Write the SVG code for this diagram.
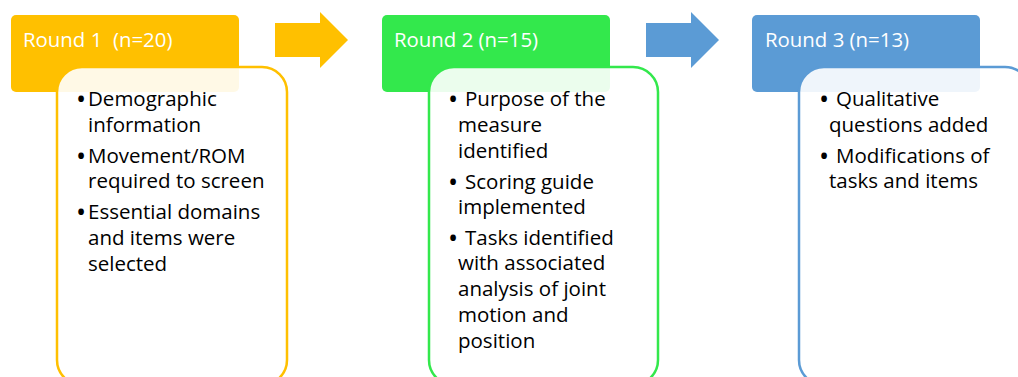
<svg xmlns="http://www.w3.org/2000/svg" width="1018" height="377" viewBox="0 0 1018 377">
  <style>
    .hdr-text { font-family: "Open Sans", "Liberation Sans", sans-serif; font-size: 20.4px; fill: #ffffff; }
    .body-text { font-family: "Open Sans", "Liberation Sans", sans-serif; font-size: 20.5px; fill: #000000; }
    .bullet { font-family: "Open Sans", "Liberation Sans", sans-serif; font-size: 27px; fill: #000000; }
    .card { fill: #ffffff; fill-opacity: 0.9; stroke-width: 2.5; }
  </style>
  <rect width="1018" height="377" fill="#ffffff"/>

  <!-- Round 1 -->
  <g id="round1">
    <rect x="11" y="15" width="228" height="77" rx="5" fill="#FFC000"/>
    <text class="hdr-text" x="23" y="47" xml:space="preserve">Round 1  (n=20)</text>
    <rect class="card" x="57" y="67" width="230" height="318" rx="25" stroke="#FFC000"/>
    <text class="bullet">
      <tspan x="76" y="109">•</tspan>
      <tspan x="76" y="166">•</tspan>
      <tspan x="76" y="222">•</tspan>
    </text>
    <text class="body-text">
      <tspan x="88" y="106">Demographic</tspan>
      <tspan x="88" y="132">information</tspan>
      <tspan x="88" y="163">Movement/ROM</tspan>
      <tspan x="88" y="188">required to screen</tspan>
      <tspan x="88" y="219">Essential domains</tspan>
      <tspan x="88" y="245">and items were</tspan>
      <tspan x="88" y="271">selected</tspan>
    </text>
  </g>

  <!-- Round 2 -->
  <g id="round2">
    <rect x="382" y="15" width="228" height="77" rx="5" fill="#33E84C"/>
    <text class="hdr-text" x="394" y="47">Round 2 (n=15)</text>
    <rect class="card" x="429" y="67" width="229" height="318" rx="25" stroke="#33E84C"/>
    <text class="bullet">
      <tspan x="448" y="109">•</tspan>
      <tspan x="448" y="192">•</tspan>
      <tspan x="448" y="248">•</tspan>
    </text>
    <text class="body-text">
      <tspan x="465" y="106">Purpose of the</tspan>
      <tspan x="458" y="132">measure</tspan>
      <tspan x="458" y="158">identified</tspan>
      <tspan x="465" y="189">Scoring guide</tspan>
      <tspan x="458" y="214">implemented</tspan>
      <tspan x="465" y="245">Tasks identified</tspan>
      <tspan x="458" y="270">with associated</tspan>
      <tspan x="458" y="296">analysis of joint</tspan>
      <tspan x="458" y="322">motion and</tspan>
      <tspan x="458" y="348">position</tspan>
    </text>
  </g>

  <!-- Round 3 -->
  <g id="round3">
    <rect x="752" y="15" width="228" height="77" rx="5" fill="#5B9BD5"/>
    <text class="hdr-text" x="765" y="47">Round 3 (n=13)</text>
    <rect class="card" x="799" y="67" width="231" height="318" rx="25" stroke="#5B9BD5"/>
    <text class="bullet">
      <tspan x="819" y="109">•</tspan>
      <tspan x="819" y="166">•</tspan>
    </text>
    <text class="body-text">
      <tspan x="836" y="106">Qualitative</tspan>
      <tspan x="829" y="132">questions added</tspan>
      <tspan x="836" y="163">Modifications of</tspan>
      <tspan x="829" y="188">tasks and items</tspan>
    </text>
  </g>

  <!-- Block arrows between rounds -->
  <g id="connectors">
    <polygon points="275,23 320,23 320,12 348,40 320,68 320,57 275,57" fill="#FFC000"/>
    <polygon points="646,23 691,23 691,12 719,40 691,68 691,57 646,57" fill="#5B9BD5"/>
  </g>
</svg>
